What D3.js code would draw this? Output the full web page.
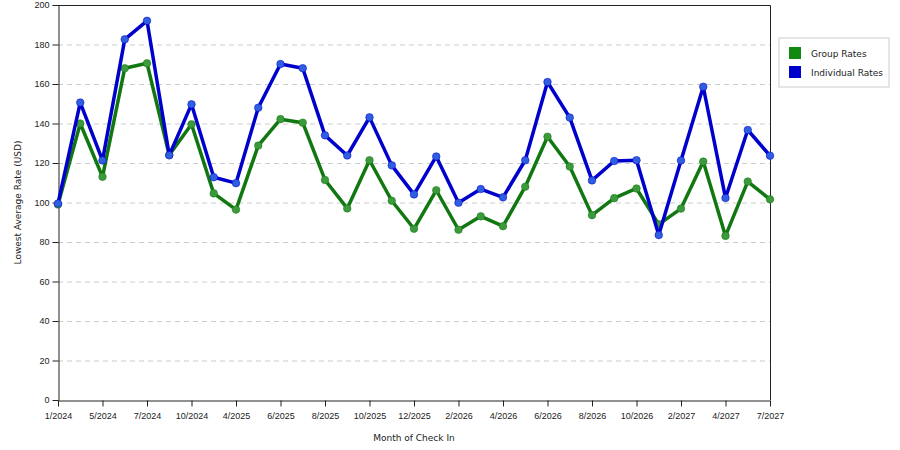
<!DOCTYPE html>
<html>
<head>
<meta charset="utf-8">
<script src="https://cdn.jsdelivr.net/npm/d3@7"></script>
<style>
  body { margin: 0; background: #fff; }
  svg { display: block; font-family: "DejaVu Sans", Verdana, sans-serif; }
</style>
</head>
<body>
<div id="chart"></div>
<script>
// months of check in (only every other one gets a tick label)
const months = ['1/2024', '3/2024', '5/2024', '6/2024', '7/2024', '9/2024', '10/2024', '2/2025',
  '4/2025', '5/2025', '6/2025', '7/2025', '8/2025', '9/2025', '10/2025', '11/2025',
  '12/2025', '1/2026', '2/2026', '3/2026', '4/2026', '5/2026', '6/2026', '7/2026',
  '8/2026', '9/2026', '10/2026', '12/2026', '2/2027', '3/2027', '4/2027', '6/2027', '7/2027']

const groupRates = [99, 140, 113, 168, 170.5, 124, 139.6, 104.6, 96.4, 128.8, 142.2, 140.4, 111.4,
  97, 121.4, 100.9, 86.7, 106.2, 86.2, 93, 88, 108, 133.3, 118.2, 93.6, 102.2, 107.1,
  88.9, 96.9, 120.7, 83.1, 110.6, 101.6]

const individualRates = [99.5, 150.6, 121.3, 182.6, 192, 123.9, 149.7, 112.8, 109.8, 148, 170.1,
  168, 134, 123.8, 143.1, 118.8, 104.1, 123.3, 99.9, 106.8, 102.6, 121.4, 161, 143,
  111.2, 121, 121.4, 83.5, 121.3, 158.6, 102.3, 136.7, 123.7]

const yTicks = [0, 20, 40, 60, 80, 100, 120, 140, 160, 180, 200]

const series = [
  { name: 'Group Rates', values: groupRates, color: '#117711', dot: '#3c9a3c' },
  { name: 'Individual Rates', values: individualRates, color: '#0000cc', dot: '#2f5fe0' }
]

const width = 900, height = 450
const margin = { top: 5, right: 130, bottom: 50, left: 58 }

const svg = d3.select('#chart').append('svg')
  .attr('width', width)
  .attr('height', height)

const x = d3.scalePoint()
  .domain(months)
  .range([margin.left, width - margin.right])

const y = d3.scaleLinear()
  .domain([0, 200])
  .range([height - margin.bottom, margin.top])

// dashed grid
svg.append('g')
  .selectAll('line')
  .data(yTicks.filter(d => d > 0 && d < 200))
  .join('line')
  .attr('x1', margin.left)
  .attr('x2', width - margin.right)
  .attr('y1', d => y(d) + 0.5)
  .attr('y2', d => y(d) + 0.5)
  .attr('stroke', '#cccccc')
  .attr('stroke-dasharray', '5,4')

// frame top + right
svg.append('path')
  .attr('d', `M${margin.left},${margin.top + 0.5}H${width - margin.right + 0.5}V${height - margin.bottom}`)
  .attr('fill', 'none')
  .attr('stroke', '#222')

const xAxis = svg.append('g')
  .attr('transform', `translate(0,${height - margin.bottom + 0.5})`)
  .call(d3.axisBottom(x)
    .tickValues(months.filter((m, i) => i % 2 === 0))
    .tickSize(6)
    .tickSizeOuter(0))
xAxis.select('.domain').attr('stroke', '#222')
xAxis.selectAll('.tick line').attr('stroke', '#222')
xAxis.selectAll('text').attr('font-size', 9).attr('fill', '#222').attr('dy', '1.1em')

const yAxis = svg.append('g')
  .attr('transform', `translate(${margin.left + 0.5},0)`)
  .call(d3.axisLeft(y).tickValues(yTicks).tickSize(6).tickSizeOuter(0))
yAxis.select('.domain').attr('stroke', '#222')
yAxis.selectAll('.tick line').attr('stroke', '#222')
yAxis.selectAll('text').attr('font-size', 9).attr('fill', '#222')

svg.append('text')
  .attr('x', (margin.left + width - margin.right) / 2)
  .attr('y', 441)
  .attr('text-anchor', 'middle')
  .attr('font-size', 9)
  .attr('fill', '#222')
  .text('Month of Check In')

svg.append('text')
  .attr('transform', `translate(21,${(margin.top + height - margin.bottom) / 2}) rotate(-90)`)
  .attr('text-anchor', 'middle')
  .attr('font-size', 9)
  .attr('fill', '#222')
  .text('Lowest Average Rate (USD)')

const line = d3.line()
  .x((d, i) => x(months[i]))
  .y(d => y(d))

// draw individual under group? reference has blue on top in most places
const order = [series[0], series[1]]
order.forEach(s => {
  const g = svg.append('g')
  g.append('path')
    .datum(s.values)
    .attr('d', line)
    .attr('fill', 'none')
    .attr('stroke', s.color)
    .attr('stroke-width', 3.5)
    .attr('stroke-linejoin', 'round')
  g.selectAll('circle')
    .data(s.values)
    .join('circle')
    .attr('cx', (d, i) => x(months[i]))
    .attr('cy', d => y(d))
    .attr('r', 3.8)
    .attr('fill', s.dot)
    .attr('stroke', s.color)
    .attr('stroke-opacity', 0.5)
    .attr('stroke-width', 1)
})

// legend
const legend = svg.append('g').attr('transform', 'translate(779,38)')
legend.append('rect')
  .attr('width', 110)
  .attr('height', 49)
  .attr('fill', '#fff')
  .attr('stroke', '#cccccc')
series.forEach((s, i) => {
  legend.append('rect')
    .attr('x', 10)
    .attr('y', 9 + i * 19)
    .attr('width', 12)
    .attr('height', 12)
    .attr('fill', s.color === '#117711' ? '#118811' : s.color)
  legend.append('text')
    .attr('x', 32)
    .attr('y', 19 + i * 19)
    .attr('font-size', 9)
    .attr('fill', '#222')
    .text(s.name)
})
</script>
</body>
</html>
